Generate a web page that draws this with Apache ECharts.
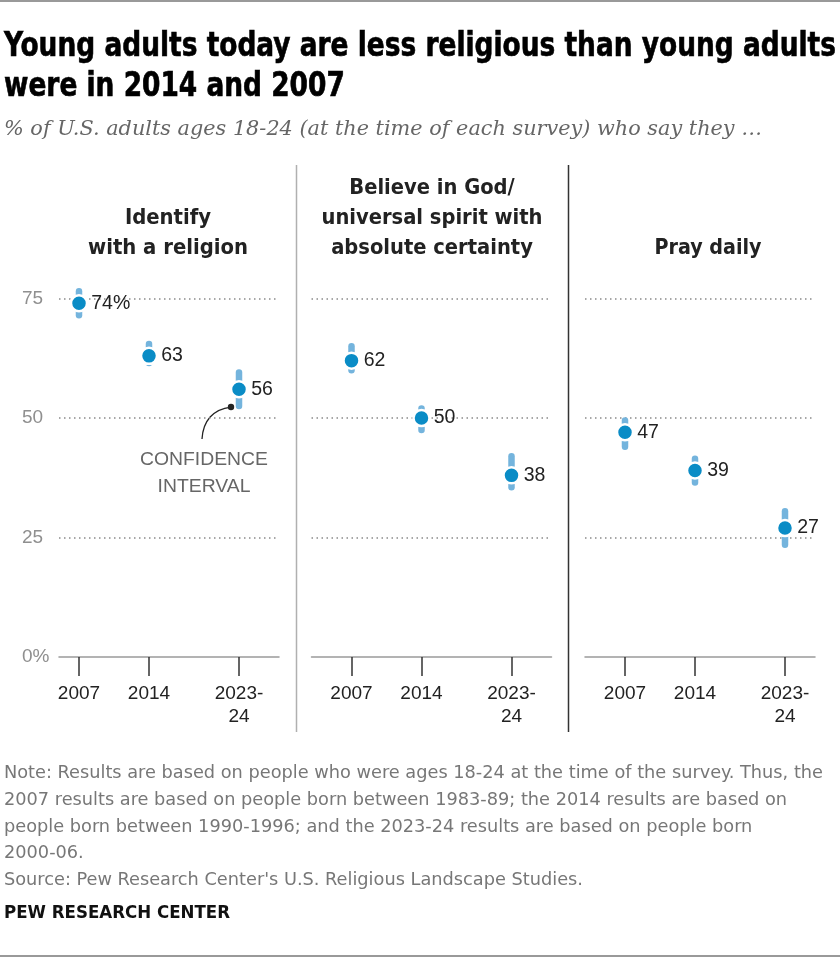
<!DOCTYPE html>
<html>
<head>
<meta charset="utf-8">
<script src="https://cdn.jsdelivr.net/npm/echarts@6/dist/echarts.min.js"></script>
<style>
html,body{margin:0;padding:0;background:#fff;}
#chart{width:840px;height:958px;}
</style>
</head>
<body>
<div id="chart"></div>
<script>
// ---- data ----
const surveyYears = ['2007', '2014', '2023'];
const surveyLabels = ['2007', '2014', '2023-\n24'];
const panelTitles = ['Identify\nwith a religion', 'Believe in God/\nuniversal spirit with\nabsolute certainty', 'Pray daily'];
const yTickLabels = ['0%', '25', '50', '75'];

const identifyValues = [74, 63, 56];
const identifyLow = [71.5, 61.5, 52.5];
const identifyHigh = [76.5, 65.5, 59.5];

const godValues = [62, 50, 38];
const godLow = [60, 47.5, 35.5];
const godHigh = [65, 52, 42];

const prayValues = [47, 39, 27];
const prayLow = [44, 36.5, 23.5];
const prayHigh = [49.5, 41.5, 30.5];

// axis scaffolding: yearly slots so spacing follows time
function yearRange(a, b) { const r = []; for (let y = a; y <= b; y++) r.push(String(y)); return r; }
const panelYearSpans = [[2005, 2027], [2003, 2027], [2003, 2026]];

const FONT_COND = "'DejaVu Sans Condensed', 'DejaVu Sans', sans-serif";
const FONT_SANS = "'Liberation Sans', Arial, sans-serif";
const DOT = '#0a8cc6';
const CI = '#74b4dd';

const panels = [
  { values: identifyValues, low: identifyLow, high: identifyHigh, left: 59, width: 220 },
  { values: godValues, low: godLow, high: godHigh, left: 311.5, width: 240 },
  { values: prayValues, low: prayLow, high: prayHigh, left: 585, width: 230 }
];

const measureCtx = document.createElement('canvas').getContext('2d');
function fitScale(text, font, target) {
  measureCtx.font = font;
  const w = Math.max.apply(null, text.split('\n').map(l => measureCtx.measureText(l).width));
  return target / w;
}

const chart = echarts.init(document.getElementById('chart'), null, { renderer: 'canvas' });

const grids = [], xAxes = [], yAxes = [], series = [];
panels.forEach((p, i) => {
  grids.push({ left: p.left, width: p.width, top: 179, height: 478, containLabel: false });
  xAxes.push({
    type: 'category', gridIndex: i, boundaryGap: false,
    data: yearRange(panelYearSpans[i][0], panelYearSpans[i][1]),
    axisLine: { show: true, lineStyle: { color: '#9a9a9a', width: 1.5 } },
    axisTick: { show: true, length: 19, lineStyle: { color: '#333', width: 1.5 },
      interval: (idx, val) => surveyYears.indexOf(val) >= 0 },
    axisLabel: { show: true, margin: 25, fontSize: 19, lineHeight: 23, color: '#222', fontFamily: FONT_SANS,
      interval: (idx, val) => surveyYears.indexOf(val) >= 0,
      formatter: (val) => { const k = surveyYears.indexOf(val); return k >= 0 ? surveyLabels[k] : ''; } },
    splitLine: { show: false }
  });
  yAxes.push({
    type: 'value', gridIndex: i, min: 0, max: 100, interval: 25,
    axisLine: { show: false }, axisTick: { show: false },
    axisLabel: { show: i === 0, align: 'left', margin: 37, fontSize: 19, color: '#8f8f8f', fontFamily: FONT_SANS,
      formatter: (v) => { const k = v / 25; return k < yTickLabels.length ? yTickLabels[k] : ''; } },
    splitLine: { show: true, lineStyle: { type: [1.5, 3.5], width: 1.5,
      color: ['rgba(0,0,0,0)', '#8a8a8a', '#8a8a8a', '#8a8a8a', 'rgba(0,0,0,0)'] } }
  });
  series.push({
    type: 'custom', xAxisIndex: i, yAxisIndex: i, z: 2,
    encode: { x: 0, y: [1, 2] },
    data: surveyYears.map((y, k) => [y, p.low[k], p.high[k]]),
    renderItem: (params, api) => {
      const x = api.value(0);
      const a = api.coord([x, api.value(1)]);
      const b = api.coord([x, api.value(2)]);
      return { type: 'line', shape: { x1: a[0], y1: a[1], x2: b[0], y2: b[1] },
        style: { stroke: CI, lineWidth: 6.5, lineCap: 'round' } };
    },
    silent: true
  });
  series.push({
    type: 'scatter', xAxisIndex: i, yAxisIndex: i, z: 3,
    symbolSize: 16,
    itemStyle: { color: DOT, borderColor: '#fff', borderWidth: 2.5, opacity: 1 },
    label: { show: true, position: 'right', distance: 3, fontSize: 19.5, color: '#222', fontFamily: FONT_SANS,
      formatter: (d) => (i === 0 && d.dataIndex === 0) ? d.value[1] + '%' : String(d.value[1]) },
    data: surveyYears.map((y, k) => [y, p.values[k]]),
    silent: true
  });
});

const titleText = 'Young adults today are less religious than young adults\nwere in 2014 and 2007';
const titleFont = "bold 33px " + FONT_COND;
const subText = '% of U.S. adults ages 18-24 (at the time of each survey) who say they \u2026';
const subFont = "italic 20px 'DejaVu Serif', 'Liberation Serif', serif";
const noteText = "Note: Results are based on people who were ages 18-24 at the time of the survey. Thus, the\n2007 results are based on people born between 1983-89; the 2014 results are based on\npeople born between 1990-1996; and the 2023-24 results are based on people born\n2000-06.\nSource: Pew Research Center's U.S. Religious Landscape Studies.";
const noteFont = "17.5px " + FONT_COND;
const pewText = 'PEW RESEARCH CENTER';
const pewFont = "bold 18px " + FONT_COND;

const headerX = [168, 432, 708];
const headerW = [160, 221, 107];
const graphics = [
  { type: 'line', shape: { x1: 0, y1: 1, x2: 840, y2: 1 }, style: { stroke: '#999', lineWidth: 2 } },
  { type: 'line', shape: { x1: 0, y1: 956, x2: 840, y2: 956 }, style: { stroke: '#999', lineWidth: 2 } },
  { type: 'line', shape: { x1: 296.5, y1: 165, x2: 296.5, y2: 732 }, style: { stroke: '#b0b0b0', lineWidth: 1.5 } },
  { type: 'line', shape: { x1: 568.5, y1: 165, x2: 568.5, y2: 732 }, style: { stroke: '#333', lineWidth: 1.5 } },
  { type: 'text', x: 4, y: 27, scaleX: fitScale(titleText, titleFont, 832),
    style: { text: titleText, font: titleFont, fill: '#000', lineHeight: 40, align: 'left', verticalAlign: 'top',
      stroke: '#000', lineWidth: 0.6 } },
  { type: 'text', x: 4, y: 120, scaleX: fitScale(subText, subFont, 758),
    style: { text: subText, font: subFont, fill: '#666', align: 'left', verticalAlign: 'top' } },
  { type: 'text', x: 4, y: 760, scaleX: fitScale(noteText, noteFont, 819),
    style: { text: noteText, font: noteFont, fill: '#777', lineHeight: 26.8, align: 'left', verticalAlign: 'top' } },
  { type: 'text', x: 4, y: 904, scaleX: fitScale(pewText, pewFont, 226),
    style: { text: pewText, font: pewFont, fill: '#111', align: 'left', verticalAlign: 'top' } }
];
panelTitles.forEach((t, i) => {
  const f = "bold 22px " + FONT_COND;
  graphics.push({ type: 'text', x: headerX[i], y: 263, scaleX: fitScale(t, f, headerW[i]),
    style: { text: t, font: f, fill: '#222', lineHeight: 30, align: 'center', verticalAlign: 'bottom' } });
});

chart.setOption({
  animation: false,
  grid: grids, xAxis: xAxes, yAxis: yAxes, series: series, graphic: graphics
});

// annotation anchored to the 2023-24 identify CI bar
const anchor = chart.convertToPixel({ gridIndex: 0 }, ['2023', identifyLow[2]]);
const dx = anchor[0] - 8, dy = anchor[1] + 1;
const annFont = "18px " + FONT_SANS;
const ann = [
  { type: 'bezierCurve', shape: { x1: dx, y1: dy, cpx1: dx - 18, cpy1: dy + 2, cpx2: dx - 28, cpy2: dy + 14, x2: dx - 29, y2: dy + 32 },
    style: { stroke: '#222', lineWidth: 1.3, fill: null } },
  { type: 'circle', shape: { cx: dx, cy: dy, r: 3.2 }, style: { fill: '#222' } },
  { type: 'text', x: dx - 27, y: dy + 39, scaleX: fitScale('CONFIDENCE', annFont, 128),
    style: { text: 'CONFIDENCE\nINTERVAL', font: annFont,
      fill: '#666', lineHeight: 27, align: 'center', verticalAlign: 'top' } }
];
chart.setOption({ graphic: graphics.concat(ann) });
</script>
</body>
</html>
